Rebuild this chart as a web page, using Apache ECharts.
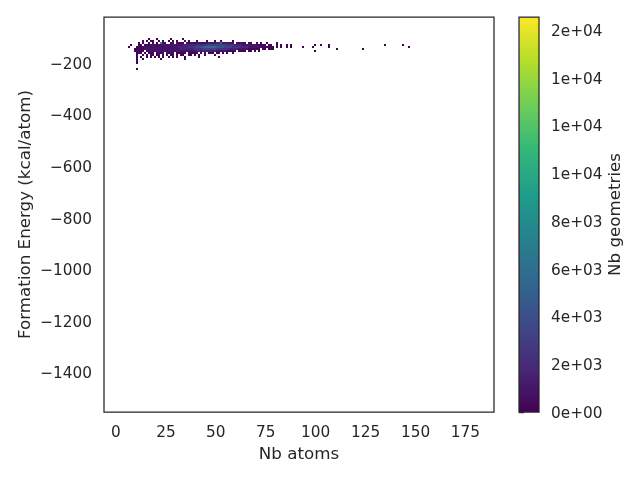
<!DOCTYPE html>
<html>
<head>
<meta charset="utf-8">
<script src="https://cdn.jsdelivr.net/npm/echarts@6/dist/echarts.min.js"></script>
<style>
html,body{margin:0;padding:0;background:#fff;}
#chart{width:640px;height:480px;}
</style>
</head>
<body>
<div id="chart"></div>
<script>
// ---- data ----
const xTickValues = [0, 25, 50, 75, 100, 125, 150, 175];
const yTickValues = [-1400, -1200, -1000, -800, -600, -400, -200];
const cbTickValues = [0, 2000, 4000, 6000, 8000, 10000, 12000, 14000, 16000];
const cbMax = 16545;

// histogram bins: first column of the grid strings is Nb atoms = 6, one atom per bin
const gridFirstX = 6;
const xBinWidth = 1;
const yBinHeight = 7.75;
// lower edge (kcal/atom) of each grid row, top row first
const yBinLower = [-110.75, -118.5, -126.25, -134, -141.75, -149.5, -157.25, -165,
                   -172.75, -180.5, -188.25, -196, -203.75, -211.5, -219.25, -227];
// count level codes
const levelCounts = {'1': 30, '2': 300, '3': 900, '4': 1600, '5': 2400, '6': 3300, '7': 4200, '8': 5500, '9': 8500};
// grid rows, columns = Nb atoms 6,7,8,...
const gridRows = [
  '..' + '........1.' + '..1......1' + '.....1....',
  '..' + '.....1.1.2' + '1..2.1..1.' + '2.1...2.1.' + '..1....1..' + '.1..1.....' + '1.........',
  '..' + '...1.2..2.' + '2.2.932..2' + '3.3232.323' + '3233323343' + '3344833433' + '3.32322.32' + '..2.2..2..' + '..1.......',
  '.1' + '...12.2223' + '3323333333' + '3333344444' + '4455555666' + '6666666555' + '5444433333' + '3332222.22' + '..2.2..1.1',
  '1.' + '..12223333' + '3333333333' + '3334444455' + '5566778888' + '8877776666' + '5555444433' + '3333322222' + '2.2.1..1.1',
  '..' + '.122223333' + '3333333333' + '3333444444' + '4555566666' + '6655555544' + '4443333322' + '2222.21.12' + '1.........',
  '..' + '.12222.233' + '3333333333' + '3333333333' + '3344444444' + '4433333322' + '22.2212.21' + '.1.1......',
  '..' + '..122.2.22' + '2.2323.323' + '2.22222.22' + '222.2.2.12' + '1.12.1.1..' + '1.........',
  '..' + '..1..2.2.2' + '2.22.2.2.2' + '2.2.21..21' + '.1.1..1...' + '.1........',
  '..' + '..1.1..1.1' + '.1.1.1..1.' + '1.1...1...' + '...1......' + '...1......',
  '..' + '..1..1....' + '....1.....' + '......1...',
  '..' + '..1.......',
  '..' + '..1.......',
  '',
  '',
  '..' + '..1.......'
];
// isolated bins to the right of the main band: [Nb atoms, row index, count]
const sparseX = [93, 98, 99, 99, 102, 106, 106, 110, 123, 134, 143, 146];
const sparseRow = [4, 4, 3, 6, 3, 3, 4, 5, 5, 3, 3, 4];
const sparseCount = [20, 30, 10, 10, 10, 20, 10, 10, 10, 10, 10, 10];

const viridis = ['#440154','#482878','#3e4989','#31688e','#26828e','#1f9e89','#35b779','#6ece58','#b5de2b','#fde725'];

// ---- build histogram cells ----
const cells = [];
gridRows.forEach(function (row, r) {
  for (let i = 0; i < row.length; i++) {
    const ch = row[i];
    if (levelCounts[ch]) cells.push([gridFirstX + i * xBinWidth, yBinLower[r], levelCounts[ch]]);
  }
});
sparseX.forEach(function (x, i) {
  cells.push([x, yBinLower[sparseRow[i]], sparseCount[i]]);
});

const ink = '#262626';
const font = 'DejaVu Sans';
function minusFmt(v) { return v < 0 ? '\u2212' + Math.abs(v) : String(v); }
function expFmt(v) {
  const s = Number(v).toExponential(0);
  const m = s.match(/^(-?\d)e([+-])(\d+)$/);
  if (!m) return s;
  return m[1] + 'e' + m[2] + (m[3].length < 2 ? '0' + m[3] : m[3]);
}

const gradStops = viridis.map(function (c, i) { return {offset: 1 - i / (viridis.length - 1), color: c}; });

const chart = echarts.init(document.getElementById('chart'), null, {renderer: 'canvas'});
chart.setOption({
  animation: false,
  backgroundColor: '#ffffff',
  textStyle: {fontFamily: font},
  grid: [
    {left: 104, top: 17, width: 390, height: 395, show: true, borderColor: ink, borderWidth: 1.25, backgroundColor: 'transparent', containLabel: false},
    {left: 519, top: 17, width: 20, height: 395, show: true, borderColor: ink, borderWidth: 1.25, backgroundColor: 'transparent', z: 10, containLabel: false}
  ],
  graphic: [{
    type: 'rect', left: 519, top: 17, z: 1,
    shape: {width: 20, height: 395},
    style: {fill: new echarts.graphic.LinearGradient(0, 0, 0, 1, gradStops)}
  }],
  xAxis: [
    {
      type: 'value', gridIndex: 0, min: -6, max: 189.3,
      name: 'Nb atoms', nameLocation: 'middle', nameGap: 34, nameMoveOverlap: false,
      nameTextStyle: {fontSize: 16.7, color: ink, fontFamily: font},
      axisLine: {show: false}, axisTick: {show: false}, splitLine: {show: false},
      axisLabel: {customValues: xTickValues, fontSize: 15.3, color: ink, fontFamily: font, margin: 14, formatter: minusFmt}
    },
    {type: 'value', gridIndex: 1, min: 0, max: 1, show: false}
  ],
  yAxis: [
    {
      type: 'value', gridIndex: 0, min: -1555, max: -21.4,
      name: 'Formation Energy (kcal/atom)', nameLocation: 'middle', nameGap: 70, nameRotate: 90, nameMoveOverlap: false,
      nameTextStyle: {fontSize: 16.7, color: ink, fontFamily: font},
      axisLine: {show: false}, axisTick: {show: false}, splitLine: {show: false},
      axisLabel: {customValues: yTickValues, fontSize: 15.3, color: ink, fontFamily: font, margin: 12,
                  verticalAlign: 'top', lineHeight: 4, formatter: minusFmt}
    },
    {
      type: 'value', gridIndex: 1, min: 0, max: cbMax, position: 'right',
      name: 'Nb geometries', nameLocation: 'middle', nameGap: 68, nameRotate: 90, nameMoveOverlap: false,
      nameTextStyle: {fontSize: 16.7, color: ink, fontFamily: font},
      axisLine: {show: false}, splitLine: {show: false},
      axisTick: {show: true, length: 5, inside: false, customValues: cbTickValues, lineStyle: {color: ink, width: 1.25}},
      axisLabel: {customValues: cbTickValues, fontSize: 15.3, color: ink, fontFamily: font, margin: 12,
                  verticalAlign: 'top', lineHeight: 4, formatter: expFmt}
    }
  ],
  visualMap: {
    type: 'continuous', min: 0, max: cbMax, dimension: 2, seriesIndex: 0,
    inRange: {color: viridis}, show: false
  },
  series: [{
    type: 'custom',
    xAxisIndex: 0, yAxisIndex: 0,
    data: cells,
    encode: {x: 0, y: 1},
    clip: true,
    renderItem: function (params, api) {
      const x0 = api.value(0), y0 = api.value(1);
      const pTL = api.coord([x0, y0 + yBinHeight]);
      const pBR = api.coord([x0 + xBinWidth, y0]);
      const x = Math.round(pTL[0]), y = Math.round(pTL[1]);
      return {
        type: 'rect',
        shape: {x: x, y: y, width: Math.max(1, Math.round(pBR[0]) - x), height: Math.max(1, Math.round(pBR[1]) - y)},
        style: {fill: api.visual('color')}
      };
    }
  }]
});
</script>
</body>
</html>
